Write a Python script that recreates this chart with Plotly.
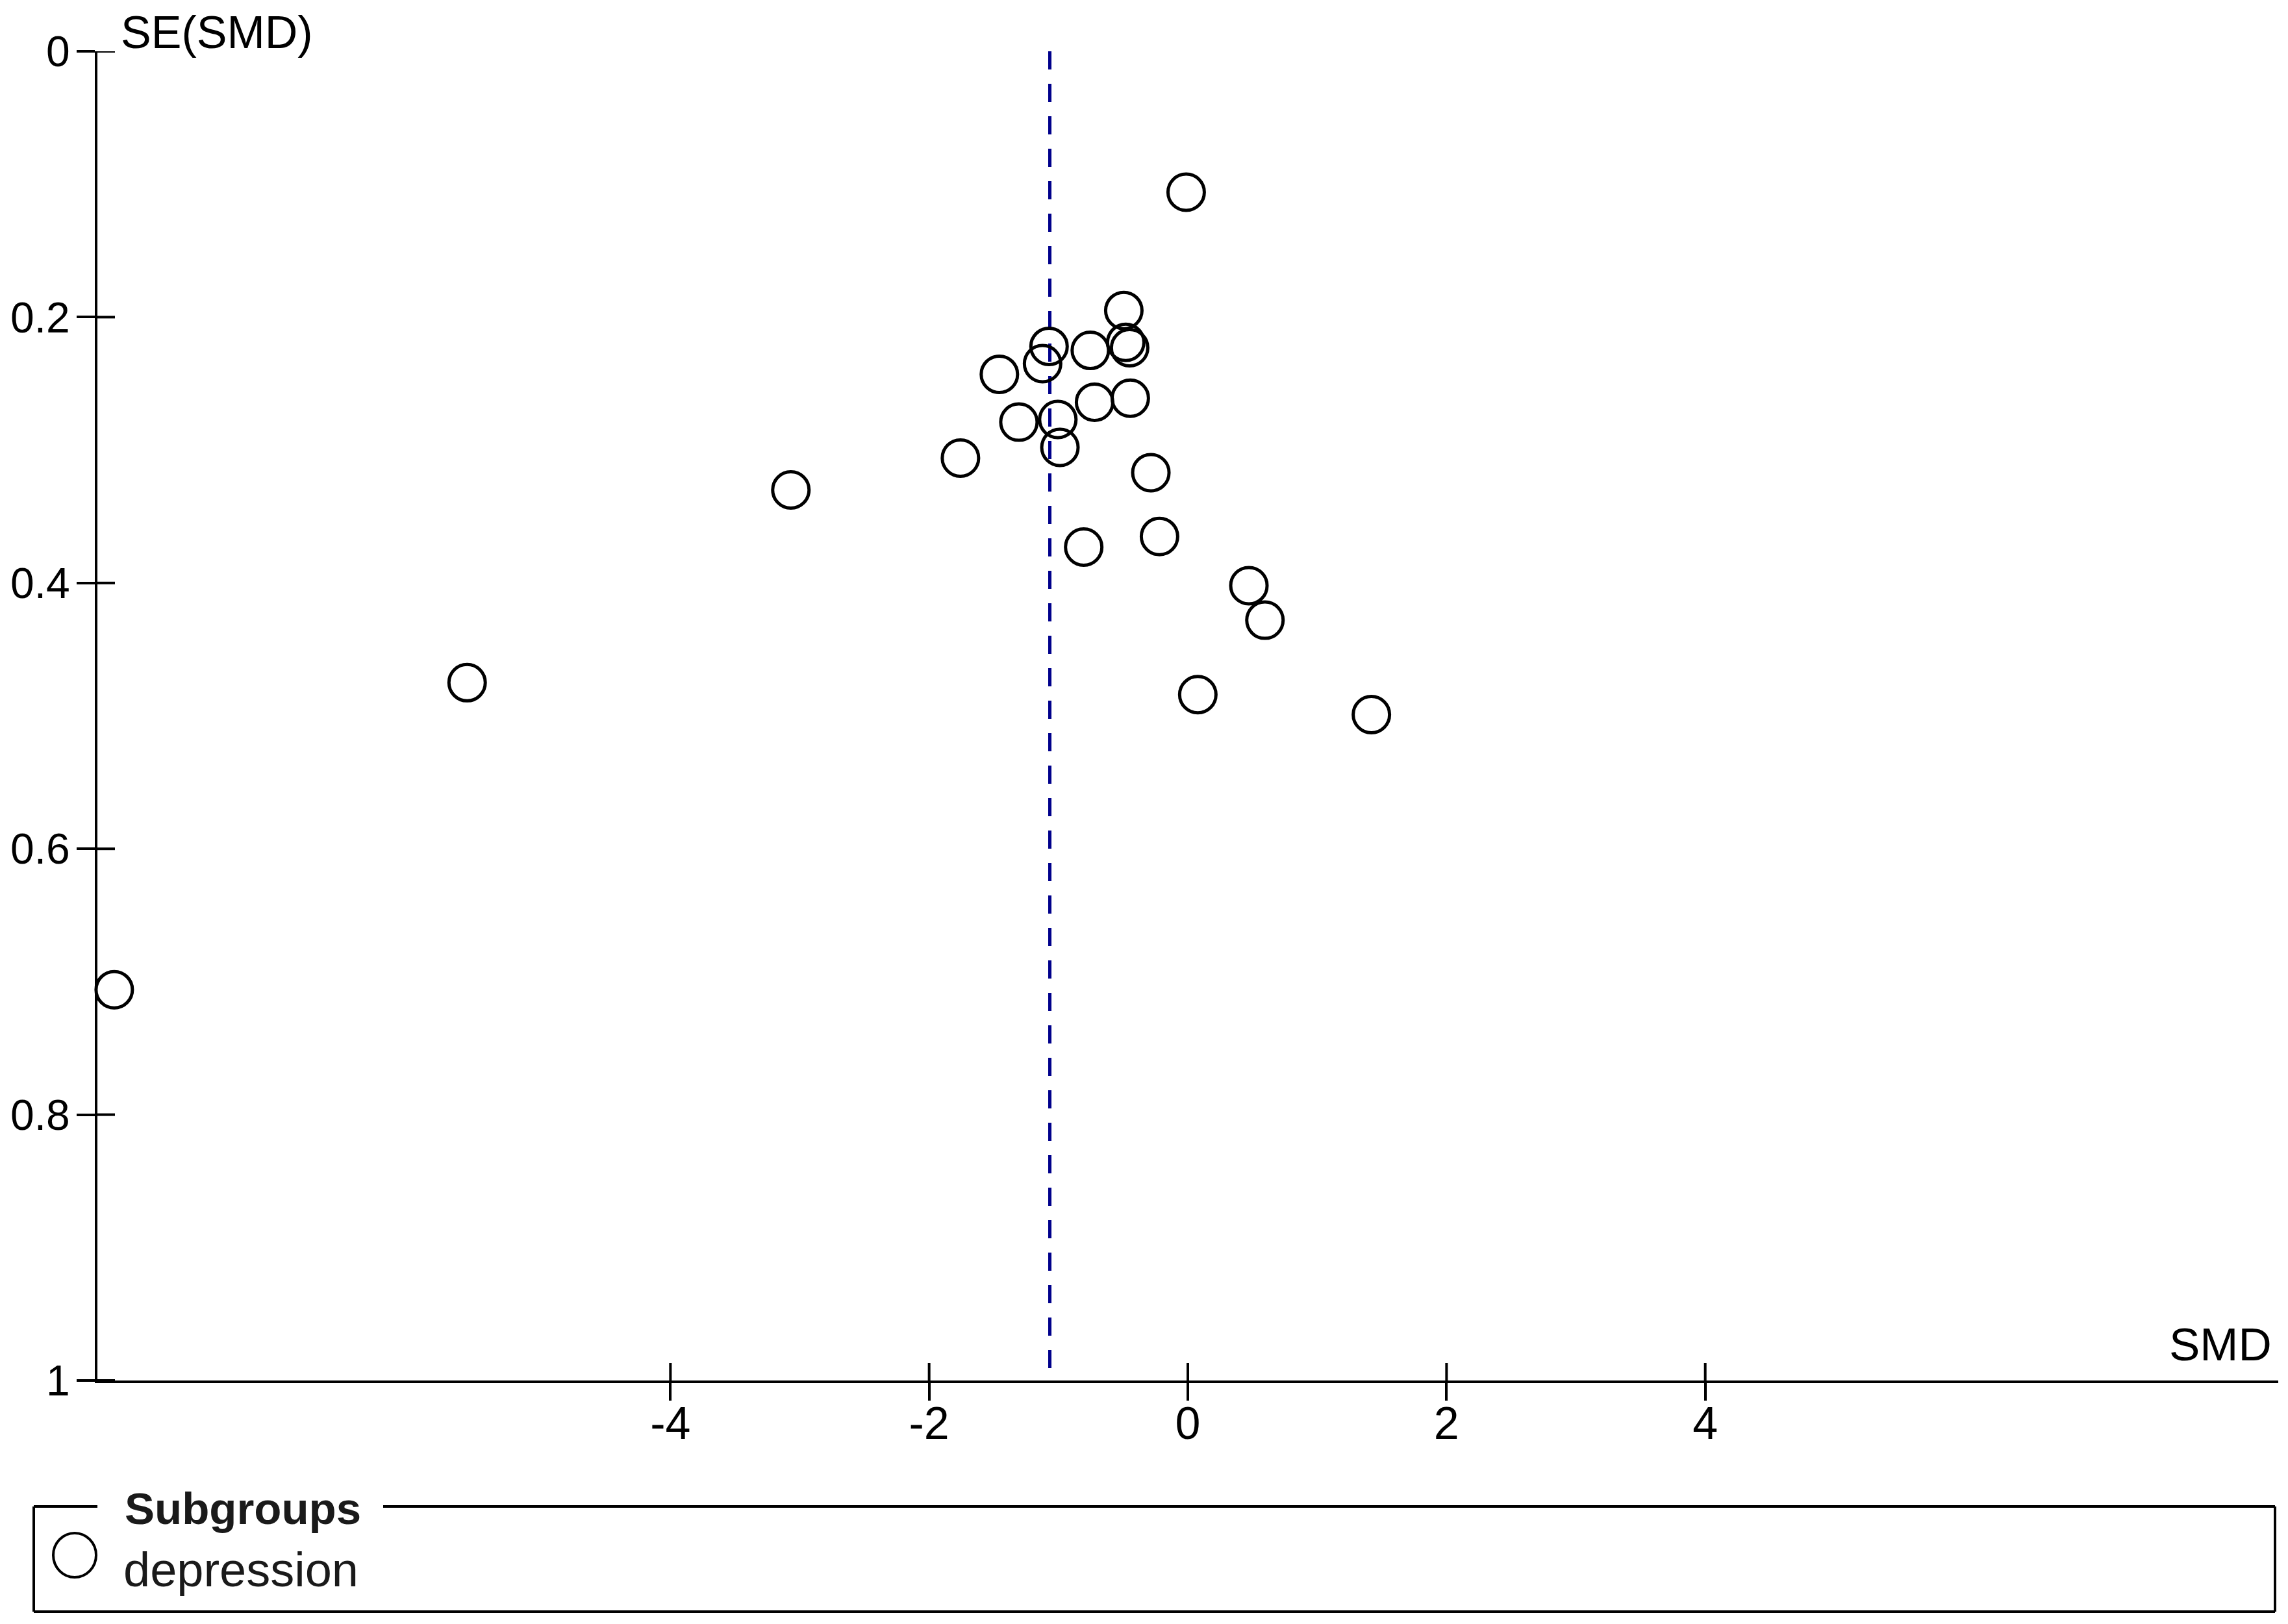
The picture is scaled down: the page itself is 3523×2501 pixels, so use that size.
import plotly.graph_objects as go

# ---- data ----
smd = [-0.013, -0.495, -0.48, -0.45, -0.754, -1.073, -1.123, -1.457,
       -0.721, -0.445, -1.306, -1.005, -0.989, -1.758, -0.286, -0.805,
       -0.219, 0.472, 0.596, 0.077, 1.419, -3.069, -5.572, -8.30]
se = [0.106, 0.195, 0.219, 0.223, 0.225, 0.222, 0.235, 0.243,
      0.264, 0.261, 0.279, 0.277, 0.298, 0.306, 0.317, 0.373,
      0.365, 0.402, 0.428, 0.484, 0.499, 0.330, 0.475, 0.706]
pooled_smd = -1.067
x_range = [-8.43, 8.43]
y_range = [1, 0]
x_tickvals = [-4, -2, 0, 2, 4]
x_ticktext = ["-4", "-2", "0", "2", "4"]
y_tickvals = [0, 0.2, 0.4, 0.6, 0.8, 1]
y_ticktext = ["0", "0.2", "0.4", "0.6", "0.8", "1"]
x_title = "SMD"
y_title = "SE(SMD)"
legend_title = "Subgroups"
legend_item = "depression"

FONT = "Liberation Sans, Arial, sans-serif"

# page has the browser's default 8px body margin; compensate for it
OFF = 8
W, H = 3523 - OFF, 2501 - OFF
L, R, T, B = 142, 15, 71, 375
# plot area in page coordinates
PL, PT = OFF + L, OFF + T
PW = W - L - R
PH = H - T - B
PB = PT + PH


def px(X):
    return (X - PL) / PW


def py(Y):
    return (PB - Y) / PH


fig = go.Figure()

fig.add_trace(go.Scatter(
    x=[pooled_smd, pooled_smd], y=[0, 1], mode="lines",
    line=dict(color="#00008B", width=5, dash="28px,22px"),
    hoverinfo="skip", showlegend=False))

fig.add_trace(go.Scatter(
    x=smd, y=se, mode="markers", name=legend_item,
    marker=dict(symbol="circle-open", size=56, color="black",
                line=dict(width=5, color="black")),
    cliponaxis=False, showlegend=False))

axis_common = dict(showgrid=False, zeroline=False, tickcolor="black",
                   tickwidth=4, automargin=False, showline=True,
                   linewidth=4, linecolor="black", ticks="outside")

fig.update_layout(
    width=W, height=H, autosize=False,
    margin=dict(l=L, r=R, t=T, b=B, pad=0),
    paper_bgcolor="white", plot_bgcolor="white",
    showlegend=False,
    xaxis=dict(range=x_range, tickvals=x_tickvals, ticktext=x_ticktext,
               ticklen=27, ticklabelstandoff=-25,
               tickfont=dict(family=FONT, size=70, color="black"),
               **axis_common),
    yaxis=dict(range=y_range, tickvals=y_tickvals, ticktext=y_ticktext,
               ticklen=28, ticklabelstandoff=-3,
               tickfont=dict(family=FONT, size=66, color="black"),
               **axis_common),
)

annotations = [
    dict(text=y_title, x=px(184), y=py(50), xanchor="left", yanchor="middle",
         font=dict(family=FONT, size=70, color="black")),
    dict(text=x_title, x=px(3500), y=py(2070), xanchor="right",
         yanchor="middle", font=dict(family=FONT, size=71, color="black")),
    dict(text="<b>" + legend_title + "</b>", x=px(190), y=py(2323),
         xanchor="left", yanchor="middle",
         font=dict(family=FONT, size=69, color="#1a1a1a")),
    dict(text=legend_item, x=px(188), y=py(2418), xanchor="left",
         yanchor="middle", font=dict(family=FONT, size=74, color="#1a1a1a")),
]
for a in annotations:
    a.update(xref="paper", yref="paper", showarrow=False)
fig.update_layout(annotations=annotations)

shapes = []
# inner halves of the crossing ticks, placed at the axes' tick values
tick_line = dict(color="black", width=4)
for v in x_tickvals:
    shapes.append(dict(type="line", xref="x", yref="y", x0=v, x1=v,
                       ysizemode="pixel", yanchor=y_range[0], y0=0, y1=27,
                       line=tick_line))
for v in y_tickvals:
    shapes.append(dict(type="line", xref="x", yref="y", y0=v, y1=v,
                       xsizemode="pixel", xanchor=x_range[0], x0=0, x1=27,
                       line=tick_line))

# legend frame (fieldset style, gap behind the title)
lw = dict(color="black", width=4)
bx0, bx1, by0, by1 = 52, 3503, 2320, 2482
segs = [
    (bx0, by0, bx0, by1),
    (bx0, by1, bx1, by1),
    (bx1, by0, bx1, by1),
    (bx0, by0, 150, by0),
    (590, by0, bx1, by0),
]
for x0, y0, x1, y1 in segs:
    shapes.append(dict(type="line", xref="paper", yref="paper",
                       x0=px(x0), y0=py(y0), x1=px(x1), y1=py(y1), line=lw))
shapes.append(dict(type="circle", xref="paper", yref="paper",
                   xsizemode="pixel", ysizemode="pixel",
                   xanchor=px(115), yanchor=py(2395),
                   x0=-33, x1=33, y0=-34, y1=34,
                   line=dict(color="black", width=4)))
fig.update_layout(shapes=shapes)

fig.write_html("out.html")
